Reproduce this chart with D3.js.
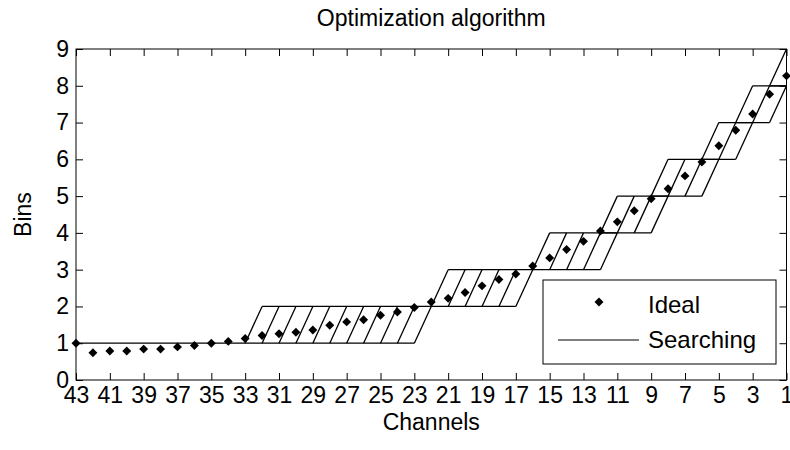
<!DOCTYPE html>
<meta charset="utf-8">
<style>
  body {
    margin: 0;
    background-color: white;
  }

  text {
    font-family: "Liberation Sans", Arial, sans-serif;
    fill: #000;
  }

  .axis text {
    font-size: 23px;
  }

  .axis line {
    stroke: #000;
  }

  .frame {
    fill: none;
    stroke: #000;
    stroke-width: 1px;
  }

  .search {
    fill: none;
    stroke: #000;
    stroke-width: 1.3px;
  }

  .ideal {
    fill: #000;
  }
</style>
<svg width="790" height="450"></svg>
<script src="https://d3js.org/d3.v7.min.js"></script>
<script>
  // channels are plotted right to left, 43 down to 1
  var channels = [43, 42, 41, 40, 39, 38, 37, 36, 35, 34, 33, 32, 31, 30, 29, 28, 27, 26, 25, 24, 23, 22,
    21, 20, 19, 18, 17, 16, 15, 14, 13, 12, 11, 10, 9, 8, 7, 6, 5, 4, 3, 2, 1];

  var ideal = [1.00, 0.74, 0.79, 0.79, 0.84, 0.84, 0.90, 0.94, 1.00, 1.05, 1.13, 1.21, 1.26, 1.30, 1.36, 1.49,
    1.58, 1.64, 1.76, 1.85, 1.97, 2.12, 2.22, 2.38, 2.56, 2.73, 2.88, 3.10, 3.32, 3.55, 3.77, 4.05, 4.30,
    4.60, 4.93, 5.20, 5.55, 5.93, 6.37, 6.79, 7.23, 7.77, 8.27];

  // searching bands: bin level, first and last channel on the lower edge
  var bandLevel = [1, 2, 3, 4, 5, 6, 7, 8];
  var bandFrom = [33, 22, 16, 12, 9, 6, 4, 2];
  var bandTo = [23, 17, 12, 9, 6, 4, 2, 1];
  // channel shift of the upper edge of each band
  var bandShift = [1, 1, 1, 1, 1, 1, 1, 1];

  // flat part before the first band
  var flatLevel = 1;
  var flatFrom = 43;
  var flatTo = 33;

  var xTicks = [43, 41, 39, 37, 35, 33, 31, 29, 27, 25, 23, 21, 19, 17, 15, 13, 11, 9, 7, 5, 3, 1];
  var yTicks = [0, 1, 2, 3, 4, 5, 6, 7, 8, 9];

  var svg = d3.select("svg");

  var pl = 76, pr = 786.5, pt = 49, pb = 380;

  var x = d3.scaleLinear().domain([43, 1]).range([pl, pr]);
  var y = d3.scaleLinear().domain([0, 9]).range([pb, pt]);

  svg.append("defs").append("clipPath")
    .attr("id", "plot")
    .append("rect")
    .attr("x", pl)
    .attr("y", pt)
    .attr("width", pr - pl)
    .attr("height", pb - pt);

  // searching lines
  var segs = [];
  segs.push([[flatFrom, flatLevel], [flatTo, flatLevel]]);
  bandLevel.forEach(function(k, i) {
    var s = bandShift[i];
    segs.push([[bandFrom[i], k], [bandTo[i], k]]);
    segs.push([[bandFrom[i] - s, k + 1], [bandTo[i] - s, k + 1]]);
    for (var c = bandFrom[i]; c >= bandTo[i]; c--) {
      segs.push([[c, k], [c - s, k + 1]]);
    }
  });

  var line = d3.line()
    .x(function(d) { return x(d[0]); })
    .y(function(d) { return y(d[1]); });

  svg.append("g")
    .attr("clip-path", "url(#plot)")
    .selectAll("path")
    .data(segs)
    .enter().append("path")
    .attr("class", "search")
    .attr("d", line);

  // ideal points
  var marker = d3.symbol().type(d3.symbolSquare).size(40);

  svg.append("g")
    .selectAll("path")
    .data(channels)
    .enter().append("path")
    .attr("class", "ideal")
    .attr("d", marker)
    .attr("transform", function(d, i) {
      return "translate(" + x(d) + "," + y(ideal[i]) + ") rotate(45)";
    });

  // axes
  svg.append("g")
    .attr("class", "axis")
    .attr("transform", "translate(0," + pb + ")")
    .call(d3.axisBottom(x).tickValues(xTicks).tickSize(-7).tickPadding(6.5))
    .call(function(g) { g.select(".domain").remove(); });

  svg.append("g")
    .attr("class", "axis")
    .attr("transform", "translate(0," + pt + ")")
    .call(d3.axisTop(x).tickValues(xTicks).tickSize(-7).tickFormat(""))
    .call(function(g) { g.select(".domain").remove(); });

  svg.append("g")
    .attr("class", "axis")
    .attr("transform", "translate(" + pl + ",0)")
    .call(d3.axisLeft(y).tickValues(yTicks).tickSize(-7).tickPadding(7))
    .call(function(g) { g.select(".domain").remove(); });

  svg.append("g")
    .attr("class", "axis")
    .attr("transform", "translate(" + pr + ",0)")
    .call(d3.axisRight(y).tickValues(yTicks).tickSize(-7).tickFormat(""))
    .call(function(g) { g.select(".domain").remove(); });

  svg.selectAll(".axis text").attr("fill", "#000");

  svg.append("rect")
    .attr("class", "frame")
    .attr("x", pl)
    .attr("y", pt)
    .attr("width", pr - pl)
    .attr("height", pb - pt);

  // titles
  svg.append("text")
    .attr("x", (pl + pr) / 2)
    .attr("y", 26)
    .attr("text-anchor", "middle")
    .style("font-size", "23px")
    .text("Optimization algorithm");

  svg.append("text")
    .attr("x", (pl + pr) / 2)
    .attr("y", 430)
    .attr("text-anchor", "middle")
    .style("font-size", "23px")
    .text("Channels");

  svg.append("text")
    .attr("transform", "translate(31," + ((pt + pb) / 2) + ") rotate(-90)")
    .attr("text-anchor", "middle")
    .style("font-size", "23px")
    .text("Bins");

  // legend
  var legend = svg.append("g");

  legend.append("rect")
    .attr("x", 543)
    .attr("y", 280)
    .attr("width", 233)
    .attr("height", 84)
    .attr("fill", "white")
    .attr("stroke", "#000");

  legend.append("path")
    .attr("class", "ideal")
    .attr("d", marker)
    .attr("transform", "translate(599,302) rotate(45)");

  legend.append("text")
    .attr("x", 648)
    .attr("y", 313)
    .style("font-size", "24px")
    .text("Ideal");

  legend.append("line")
    .attr("x1", 558)
    .attr("x2", 639)
    .attr("y1", 340)
    .attr("y2", 340)
    .attr("stroke", "#000");

  legend.append("text")
    .attr("x", 648)
    .attr("y", 348)
    .style("font-size", "24px")
    .text("Searching");
</script>
